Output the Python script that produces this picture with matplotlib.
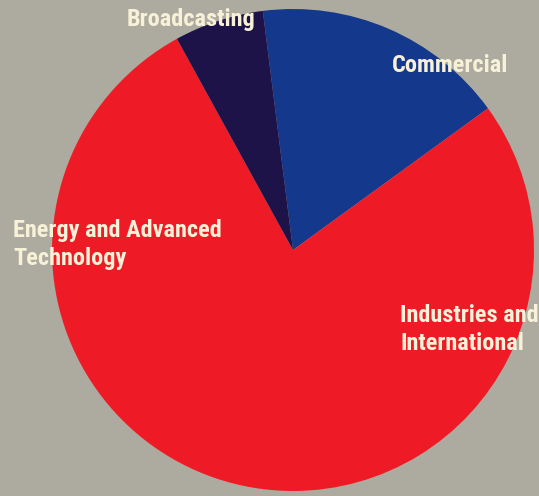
import matplotlib
matplotlib.use("Agg")
import matplotlib.pyplot as plt

# Share of business by segment (percent)
segments = ["Commercial", "Industries and\nInternational",
            "Energy and Advanced\nTechnology", "Broadcasting"]
shares = [17, 35, 42, 6]
colors = ["#14398c", "#ee1b26", "#ee1b26", "#1d1349"]

W, H = 539, 496
fig = plt.figure(figsize=(W / 100, H / 100), dpi=100)
fig.patch.set_facecolor("#adab9f")
ax = fig.add_axes([0, 0, 1, 1])

ax.pie(shares, colors=colors, startangle=97.2, counterclock=False,
       center=(293, H - 250), radius=241, frame=True,
       wedgeprops=dict(linewidth=0))
ax.set_xlim(0, W)
ax.set_ylim(0, H)
ax.set_aspect("equal")
ax.axis("off")

label_style = dict(color="#f7f1d8", fontsize=17.5, fontweight="bold",
                   family=["Roboto Condensed", "DejaVu Sans"],
                   fontstretch="condensed", ha="left", va="baseline")
# left edge and first-line baseline (pixels from top), line step
label_pos = [(392, 72), (400, 322), (13, 237), (127, 26)]
line_step = 28.5
for name, (x, y) in zip(segments, label_pos):
    for i, line in enumerate(name.split("\n")):
        ax.text(x, H - (y + i * line_step), line, **label_style)

fig.savefig("out.png", dpi=100, facecolor=fig.get_facecolor())
